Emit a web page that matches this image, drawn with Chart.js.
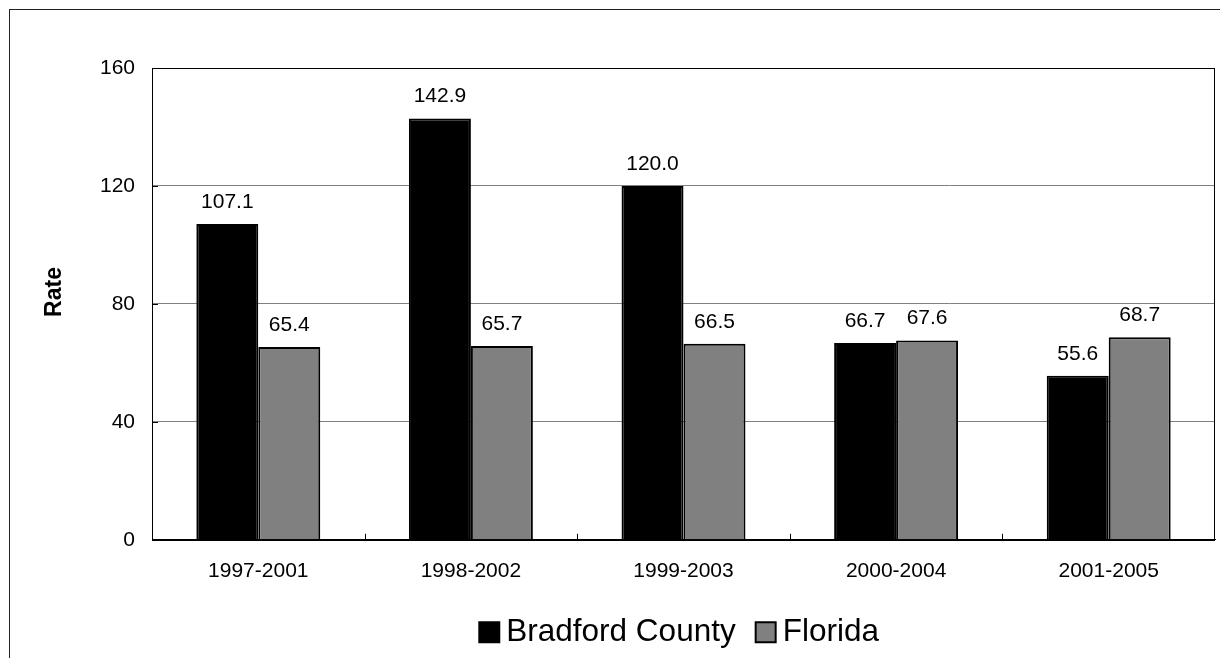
<!DOCTYPE html>
<html>
<head>
<meta charset="utf-8">
<script src="https://cdn.jsdelivr.net/npm/chart.js@4"></script>
<style>
  html, body { margin: 0; padding: 0; background: #fff; }
  canvas { display: block; }
</style>
</head>
<body>
<canvas id="c" width="1220" height="658"></canvas>
<script>
const categories = ['1997-2001', '1998-2002', '1999-2003', '2000-2004', '2001-2005'];
const bradford = [107.1, 142.9, 120.0, 66.7, 55.6];
const florida = [65.4, 65.7, 66.5, 67.6, 68.7];
const yTicks = [0, 40, 80, 120, 160];
const seriesNames = ['Bradford County', 'Florida'];
const axisTitle = 'Rate';

const FONT = "Arial, 'Liberation Sans', sans-serif";

const decor = {
  id: 'decor',
  afterDraw(chart) {
    const ctx = chart.ctx;
    const a = chart.chartArea;
    ctx.save();
    // outer frame
    ctx.strokeStyle = '#222';
    ctx.lineWidth = 1;
    ctx.strokeRect(9.5, 9.5, 1240, 700);
    // plot border
    ctx.strokeStyle = '#000';
    ctx.strokeRect(Math.round(a.left) + 0.5, Math.round(a.top) + 0.5,
                   Math.round(a.right - a.left) - 1, Math.round(a.bottom - a.top));
    // x category boundary ticks (inward)
    const xs = chart.scales.x;
    ctx.beginPath();
    for (let i = 1; i < categories.length; i++) {
      const px = Math.round(xs.getPixelForValue(i - 0.5)) + 0.5;
      ctx.moveTo(px, a.bottom);
      ctx.lineTo(px, a.bottom - 6);
    }
    ctx.stroke();
    // y ticks (inward)
    const ys = chart.scales.y;
    ctx.beginPath();
    yTicks.forEach(v => {
      const py = Math.round(ys.getPixelForValue(v)) + 0.5;
      ctx.moveTo(a.left, py);
      ctx.lineTo(a.left + 6, py);
    });
    ctx.stroke();
    // value labels
    ctx.fillStyle = '#000';
    ctx.font = '21px ' + FONT;
    ctx.textAlign = 'center';
    ctx.textBaseline = 'alphabetic';
    chart.data.datasets.forEach((ds, di) => {
      const meta = chart.getDatasetMeta(di);
      meta.data.forEach((el, i) => {
        ctx.fillText(ds.data[i].toFixed(1), el.x, el.y - 16);
      });
    });
    // axis title
    ctx.font = 'bold 23px ' + FONT;
    ctx.translate(55, 292);
    ctx.rotate(-Math.PI / 2);
    ctx.textBaseline = 'middle';
    ctx.fillText(axisTitle, 0, 0);
    ctx.restore();
  }
};

new Chart(document.getElementById('c'), {
  type: 'bar',
  data: {
    labels: categories,
    datasets: [
      { label: seriesNames[0], data: bradford, backgroundColor: '#000000', borderColor: '#000000', borderWidth: 2 },
      { label: seriesNames[1], data: florida, backgroundColor: '#808080', borderColor: '#000000', borderWidth: 2 }
    ]
  },
  options: {
    responsive: false,
    animation: false,
    devicePixelRatio: 1,
    layout: { padding: { top: 68, right: 5, left: 0, bottom: 0 } },
    datasets: { bar: { categoryPercentage: 0.583, barPercentage: 1.0 } },
    plugins: {
      legend: {
        position: 'bottom',
        fullSize: false,
        labels: {
          usePointStyle: true,
          pointStyle: 'rect',
          boxWidth: 2.5, boxHeight: 20, padding: 28.75,
          color: '#000',
          font: { family: FONT, size: 31.5 }
        }
      },
      tooltip: { enabled: false }
    },
    scales: {
      x: {
        grid: { display: true, drawOnChartArea: false, drawTicks: false },
        border: { display: true, color: '#000' },
        ticks: { color: '#000', font: { family: FONT, size: 21 }, padding: 19, maxRotation: 0 },
        afterFit(s) { s.height = 48; }
      },
      y: {
        min: 0, max: 160,
        afterBuildTicks(s) { s.ticks = yTicks.map(v => ({ value: v })); },
        grid: { color: '#808080', lineWidth: 1, drawTicks: false },
        border: { display: true, color: '#000' },
        ticks: { color: '#000', font: { family: FONT, size: 21 }, padding: 17 },
        afterFit(s) { s.width = 152; }
      }
    }
  },
  plugins: [decor]
});
</script>
</body>
</html>
